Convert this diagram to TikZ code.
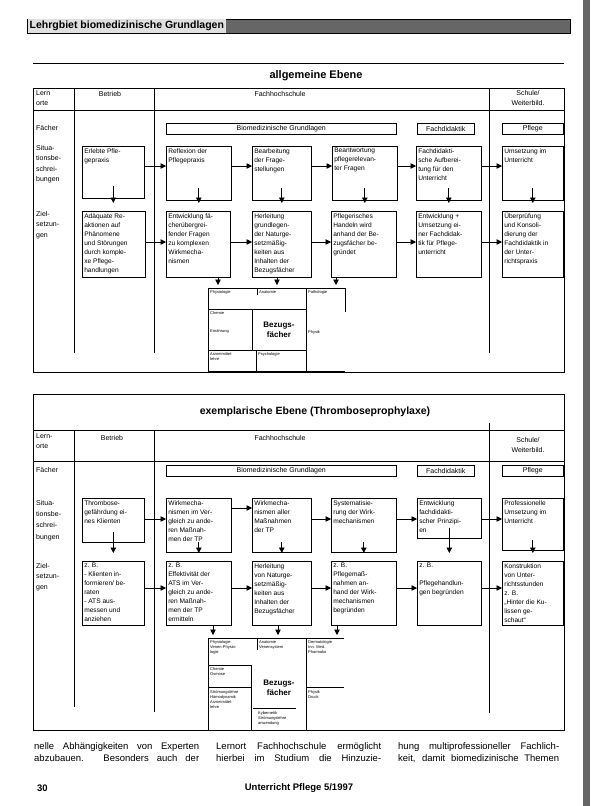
\documentclass[tikz,border=0pt]{standalone}
\usepackage{fontspec}
\setmainfont{Liberation Sans}
\usetikzlibrary{arrows.meta,positioning}

\newcommand{\boxtxt}[3]{\parbox[t][#2][t]{#1}{\raggedright #3}}

\begin{document}
\begin{tikzpicture}[x=1pt, y=-1pt,
    box/.style={draw, anchor=north west, inner sep=2pt, line width=0.6pt, font=\fontsize{6.6}{9}\selectfont},
    fach/.style={draw, anchor=north west, inner sep=0pt, minimum height=11pt, line width=0.6pt, font=\fontsize{7}{8}\selectfont},
    lbl/.style={anchor=north west, inner sep=0pt, align=left, font=\fontsize{7}{10.5}\selectfont},
    colhead/.style={inner sep=0pt, align=center, font=\fontsize{7}{10}\selectfont},
    title/.style={font=\bfseries\fontsize{10.5}{12}\selectfont},
    tiny/.style={anchor=north west, inner sep=0pt, align=left, font=\fontsize{4}{5}\selectfont},
    bez/.style={align=center, inner sep=0pt, font=\bfseries\fontsize{8}{9.5}\selectfont},
    arrow/.style={-{Triangle[length=5.5pt,width=5.5pt]}, line width=0.7pt},
    frame/.style={line width=0.8pt},
    body/.style={anchor=north west, inner sep=0pt, align=left, font=\fontsize{9.5}{12}\selectfont}
  ]
  \useasboundingbox (0,0) rectangle (590,806);

  % page header
  \fill[black!60] (27,19) rectangle (570,33);
  \fill[black!60] (583,0) rectangle (590,806);
  \node[draw, anchor=north west, minimum width=543pt, minimum height=14pt, inner sep=0pt] (bar) at (27,19) {};
  \node[anchor=west, fill=black!12, minimum height=13pt, inner sep=2pt, font=\bfseries\fontsize{10.5}{12}\selectfont] (bartitle) at ([xshift=0.5pt]bar.west) {Lehrgbiet biomedizinische Grundlagen};

  % ================= allgemeine Ebene =================
  \draw[frame] (33,63) -- (564,63);
  \node[title, font=\bfseries\fontsize{11}{12}\selectfont] (title1) at (316,76) {allgemeine Ebene};
  \draw[frame] (33,88) rectangle (564,372);
  \draw[frame] (33,110) -- (564,110);
  \draw[frame] (74,88) -- (74,353);
  \draw[frame] (154,88) -- (154,353);
  \draw[frame] (489,88) -- (489,353);

  \node[lbl] (lern1) at (36,90) {Lern\\orte};
  \node[colhead] (betr1) at (110,94) {Betrieb};
  \node[colhead] (fh1) at (280,94) {Fachhochschule};
  \node[colhead] (sch1) at (528,98) {Schule/\\Weiterbild.};
  \node[lbl, anchor=west] (faech1) at (36,128) {Fächer};
  \node[fach, minimum width=230pt] (bio1) at (166,123) {Biomedizinische Grundlagen};
  \node[fach, minimum width=57pt] (did1) at (417,123) {Fachdidaktik};
  \node[fach, minimum width=61pt] (pfl1) at (502,123) {Pflege};
  \node[lbl] (sit1) at (36,145) {Situa-\\tionsbe-\\schrei-\\bungen};
  \node[lbl] (ziel1) at (36,211) {Ziel-\\setzun-\\gen};

  % Situationsbeschreibungen
  \node[box] (sb_betrieb) at (82,146) {\boxtxt{58pt}{48pt}{Erlebte Pfle-\\gepraxis}};
  \node[box] (sb_reflex) at (166,146) {\boxtxt{61pt}{50pt}{Reflexion der\\Pflegepraxis}};
  \node[box] (sb_bearb) at (252,146) {\boxtxt{55pt}{50pt}{Bearbeitung\\der Frage-\\stellungen}};
  \node[box] (sb_beantw) at (332,146) {\boxtxt{61pt}{50pt}{Beantwortung\\pflegerelevan-\\ter Fragen}};
  \node[box] (sb_didakt) at (416,146) {\boxtxt{61pt}{50pt}{Fachdidakti-\\sche Aufberei-\\tung für den\\Unterricht}};
  \node[box] (sb_umsetz) at (502,146) {\boxtxt{57pt}{50pt}{Umsetzung im\\Unterricht}};

  % Zielsetzungen
  \node[box] (zs_reakt) at (82,211) {\boxtxt{59pt}{62pt}{Adäquate Re-\\aktionen auf\\Phänomene\\und Störungen\\durch komple-\\xe Pflege-\\handlungen}};
  \node[box] (zs_fragen) at (166,211) {\boxtxt{60pt}{62pt}{Entwicklung fä-\\cherübergrei-\\fender Fragen\\zu komplexen\\Wirkmecha-\\nismen}};
  \node[box] (zs_herl) at (252,211) {\boxtxt{55pt}{62pt}{Herleitung\\grundlegen-\\der Naturge-\\setzmäßig-\\keiten aus\\Inhalten der\\Bezugsfächer}};
  \node[box] (zs_handeln) at (331,211) {\boxtxt{61pt}{62pt}{Pflegerisches\\Handeln wird\\anhand der Be-\\zugsfächer be-\\gründet}};
  \node[box] (zs_didakt) at (416,211) {\boxtxt{61pt}{62pt}{Entwicklung +\\Umsetzung ei-\\ner Fachdidak-\\tik für Pflege-\\unterricht}};
  \node[box] (zs_pruef) at (502,211) {\boxtxt{57pt}{62pt}{Überprüfung\\und Konsoli-\\dierung der\\Fachdidaktik in\\der Unter-\\richtspraxis}};

  \draw[arrow] (sb_betrieb.east |- 0,166) -- (sb_reflex.west |- 0,166);
  \draw[arrow] (sb_reflex.east |- 0,166) -- (sb_bearb.west |- 0,166);
  \draw[arrow] (sb_bearb.east |- 0,166) -- (sb_beantw.west |- 0,166);
  \draw[arrow] (sb_beantw.east |- 0,166) -- (sb_didakt.west |- 0,166);
  \draw[arrow] (sb_didakt.east |- 0,166) -- (sb_umsetz.west |- 0,166);

  \draw[arrow, shorten >=8pt] ([yshift=13pt]sb_betrieb.south) -- (zs_reakt.north -| sb_betrieb.south);
  \draw[arrow, shorten >=8pt] ([yshift=13pt]sb_reflex.south) -- (zs_fragen.north -| sb_reflex.south);
  \draw[arrow, shorten >=8pt] ([yshift=13pt]sb_bearb.south) -- (zs_herl.north -| sb_bearb.south);
  \draw[arrow, shorten >=8pt] ([yshift=13pt]sb_beantw.south) -- (zs_handeln.north -| sb_beantw.south);
  \draw[arrow, shorten >=8pt] ([yshift=13pt]sb_didakt.south) -- (zs_didakt.north -| sb_didakt.south);
  \draw[arrow, shorten >=8pt] ([yshift=13pt]sb_umsetz.south) -- (zs_pruef.north -| sb_umsetz.south);

  \draw[arrow] (zs_reakt.east |- 0,242) -- (zs_fragen.west |- 0,242);
  \draw[arrow] (zs_fragen.east |- 0,242) -- (zs_herl.west |- 0,242);
  \draw[arrow] (zs_herl.east |- 0,242) -- (zs_handeln.west |- 0,242);
  \draw[arrow] (zs_handeln.east |- 0,242) -- (zs_didakt.west |- 0,242);
  \draw[arrow] (zs_didakt.east |- 0,242) -- (zs_pruef.west |- 0,242);

  % Bezugsfaecher
  \node[draw, anchor=north west, minimum width=98pt, minimum height=83pt, inner sep=0pt] (bez1) at (208,288) {};
  \node[anchor=north west, minimum width=39pt, minimum height=83pt, inner sep=0pt] (bez1r) at (306,288) {};
  \draw (bez1r.north west) -- (bez1r.north east) -- ([yshift=-24pt]bez1r.north east);
  \draw (bez1r.south west) -- (bez1r.south east);
  \draw (208,309) -- (306,309);
  \draw (252,309) -- (252,350);
  \draw (208,350) -- (306,350);
  \draw (256,350) -- (256,371);
  \draw (257,288) -- (257,295);
  \node[tiny] (ph1) at (210,290) {Physiologie};
  \node[tiny] (an1) at (259,290) {Anatomie};
  \node[tiny] (pa1) at (308,290) {Pathologie};
  \node[tiny] (ch1) at (210,311) {Chemie};
  \node[tiny] (er1) at (210,329) {Ernährung};
  \node[bez] (bzf1) at (279,330) {Bezugs-\\fächer};
  \node[tiny] (py1) at (308,330) {Physik};
  \node[tiny] (az1) at (210,352) {Arzneimittel-\\lehre};
  \node[tiny] (ps1) at (258,352) {Psychologie};

  \draw[arrow, shorten >=3pt] (zs_fragen.south -| 218,0) -- (bez1.north -| 218,0);
  \draw[arrow, shorten >=3pt] (zs_herl.south -| 277,0) -- (bez1.north -| 277,0);
  \draw[arrow, shorten >=3pt] (zs_handeln.south -| 336,0) -- (bez1r.north -| 336,0);

  % ================= exemplarische Ebene =================
  \draw[frame] (33,394) rectangle (564,730);
  \node[title] (title2) at (315,412) {exemplarische Ebene (Thromboseprophylaxe)};
  \draw[frame] (33,430) -- (564,430);
  \draw[frame] (33,461) -- (564,461);
  \draw[frame] (74,430) -- (74,707);
  \draw[frame] (154,430) -- (154,712);
  \draw[frame] (489,423) -- (489,713);

  \node[lbl] (lern2) at (36,433) {Lern-\\orte};
  \node[colhead] (betr2) at (112,438) {Betrieb};
  \node[colhead] (fh2) at (280,438) {Fachhochschule};
  \node[colhead] (sch2) at (528,445) {Schule/\\Weiterbild.};
  \node[lbl, anchor=west] (faech2) at (36,470) {Fächer};
  \node[fach, minimum width=230pt] (bio2) at (166,465) {Biomedizinische Grundlagen};
  \node[fach, minimum width=57pt] (did2) at (417,465) {Fachdidaktik};
  \node[fach, minimum width=61pt] (pfl2) at (502,465) {Pflege};
  \node[lbl, font=\fontsize{7}{11.3}\selectfont] (sit2) at (36,500) {Situa-\\tionsbe-\\schrei-\\bungen};
  \node[lbl] (ziel2) at (36,563) {Ziel-\\setzun-\\gen};

  % Situationsbeschreibungen
  \node[box] (tsb_gefahr) at (82,498) {\boxtxt{58pt}{40pt}{Thrombose-\\gefährdung ei-\\nes Klienten}};
  \node[box] (tsb_vergl) at (166,498) {\boxtxt{61pt}{50pt}{Wirkmecha-\\nismen im Ver-\\gleich zu ande-\\ren Maßnah-\\men der TP}};
  \node[box] (tsb_alle) at (252,498) {\boxtxt{55pt}{50pt}{Wirkmecha-\\nismen aller\\Maßnahmen\\der TP}};
  \node[box] (tsb_system) at (331,498) {\boxtxt{61pt}{50pt}{Systematisie-\\rung der Wirk-\\mechanismen}};
  \node[box] (tsb_prinz) at (417,498) {\boxtxt{60pt}{36pt}{Entwicklung\\fachdidakti-\\scher Prinzipi-\\en}};
  \node[box] (tsb_prof) at (502,498) {\boxtxt{57pt}{48pt}{Professionelle\\Umsetzung im\\Unterricht}};

  % Zielsetzungen
  \node[box] (tzs_info) at (82,561) {\boxtxt{58pt}{60pt}{z. B.\\- Klienten in-\\formieren/ be-\\raten\\- ATS aus-\\messen und\\anziehen}};
  \node[box] (tzs_effekt) at (166,561) {\boxtxt{61pt}{60pt}{z. B.\\Effektivität der\\ATS im Ver-\\gleich zu ande-\\ren Maßnah-\\men der TP\\ermitteln}};
  \node[box] (tzs_herl) at (252,561) {\boxtxt{55pt}{60pt}{Herleitung\\von Naturge-\\setzmäßig-\\keiten aus\\Inhalten der\\Bezugsfächer}};
  \node[box] (tzs_begr) at (331,561) {\boxtxt{61pt}{60pt}{z. B.\\Pflegemaß-\\nahmen an-\\hand der Wirk-\\mechanismen\\begründen}};
  \node[box] (tzs_handl) at (417,561) {\boxtxt{60pt}{60pt}{z. B.\\[9pt]Pflegehandlun-\\gen begründen}};
  \node[box] (tzs_konstr) at (502,561) {\boxtxt{57pt}{60pt}{Konstruktion\\von Unter-\\richtsstunden\\z. B.\\„Hinter die Ku-\\lissen ge-\\schaut“}};

  \draw[arrow] (tsb_gefahr.east |- 0,519) -- (tsb_vergl.west |- 0,519);
  \draw[arrow] (tsb_vergl.east |- 0,508) -- (tsb_alle.west |- 0,508);
  \draw[arrow] (tsb_alle.east |- 0,519) -- (tsb_system.west |- 0,519);
  \draw[arrow] (tsb_system.east |- 0,519) -- (tsb_prinz.west |- 0,519);
  \draw[arrow] (tsb_prinz.east |- 0,519) -- (tsb_prof.west |- 0,519);

  \draw[arrow, shorten >=8pt] ([yshift=11pt]tsb_gefahr.south) -- (tzs_info.north -| tsb_gefahr.south);
  \draw[arrow, shorten >=8pt] ([yshift=11pt]tsb_vergl.south) -- (tzs_effekt.north -| tsb_vergl.south);
  \draw[arrow, shorten >=8pt] ([yshift=11pt]tsb_alle.south) -- (tzs_herl.north -| tsb_alle.south);
  \draw[arrow, shorten >=8pt] ([yshift=11pt]tsb_system.south) -- (tzs_begr.north -| tsb_system.south);
  \draw[arrow, shorten >=8pt] ([yshift=11pt]tsb_prinz.south) -- (tzs_handl.north -| tsb_prinz.south);
  \draw[arrow, shorten >=8pt] ([yshift=11pt]tsb_prof.south) -- (tzs_konstr.north -| tsb_prof.south);

  \draw[arrow] (tzs_info.east |- 0,588) -- (tzs_effekt.west |- 0,588);
  \draw[arrow] (tzs_effekt.east |- 0,588) -- (tzs_herl.west |- 0,588);
  \draw[arrow] (tzs_herl.east |- 0,588) -- (tzs_begr.west |- 0,588);
  \draw[arrow] (tzs_begr.east |- 0,588) -- (tzs_handl.west |- 0,588);
  \draw[arrow] (tzs_handl.east |- 0,588) -- (tzs_konstr.west |- 0,588);

  % Bezugsfaecher
  \node[draw, anchor=north west, minimum width=98pt, minimum height=92pt, inner sep=0pt] (bez2) at (208,638) {};
  \node[anchor=north west, minimum width=38pt, minimum height=92pt, inner sep=0pt] (bez2r) at (306,638) {};
  \draw (bez2r.north west) -- (bez2r.north east);
  \draw (bez2r.south west) -- (bez2r.south east);
  \draw (208,665) -- (251,665);
  \draw (208,687) -- (251,687);
  \draw (251,665) -- (251,730);
  \draw (257,638) -- (257,650);
  \draw (253,708) -- (296,708);
  \draw (306,687) -- (344,687);
  \node[tiny] (ph2) at (210,640) {Physiologie\\Venen-Physio-\\logie};
  \node[tiny] (an2) at (259,640) {Anatomie\\Venensystem};
  \node[tiny] (de2) at (308,640) {Dermatologie\\Inn. Med.\\Pharmako};
  \node[tiny] (ch2) at (210,667) {Chemie\\Osmose};
  \node[bez] (bzf2) at (279,688) {Bezugs-\\fächer};
  \node[tiny] (py2) at (308,690) {Physik\\Druck};
  \node[tiny] (st2) at (210,690) {Strömungslehre\\Hämodynamik\\Arzneimittel-\\lehre};
  \node[tiny] (ky2) at (258,711) {Kybernetik\\Strömungslehre\\anwendung};

  \draw[arrow, shorten >=3pt] (tzs_effekt.south -| 213,0) -- (bez2.north -| 213,0);
  \draw[arrow, shorten >=3pt] (tzs_herl.south -| 278,0) -- (bez2.north -| 278,0);
  \draw[arrow, shorten >=3pt] (tzs_begr.south -| 337,0) -- (bez2r.north -| 337,0);

  % running text and footer
  \node[body] (col1) at (34,742) {\makebox[165pt][s]{nelle Abhängigkeiten von Experten}\\\makebox[165pt][s]{abzubauen. Besonders auch der}};
  \node[body] (col2) at (216,742) {\makebox[165pt][s]{Lernort Fachhochschule ermöglicht}\\\makebox[165pt][s]{hierbei im Studium die Hinzuzie-}};
  \node[body] (col3) at (398,742) {\makebox[161pt][s]{hung multiprofessioneller Fachlich-}\\\makebox[161pt][s]{keit, damit biomedizinische Themen}};
  \node[anchor=west, inner sep=0pt, font=\bfseries\fontsize{9.5}{11}\selectfont] (pagenum) at (37,788) {30};
  \node[inner sep=0pt, font=\bfseries\fontsize{9.5}{11}\selectfont] (journal) at (299,788) {Unterricht Pflege 5/1997};
\end{tikzpicture}
\end{document}
